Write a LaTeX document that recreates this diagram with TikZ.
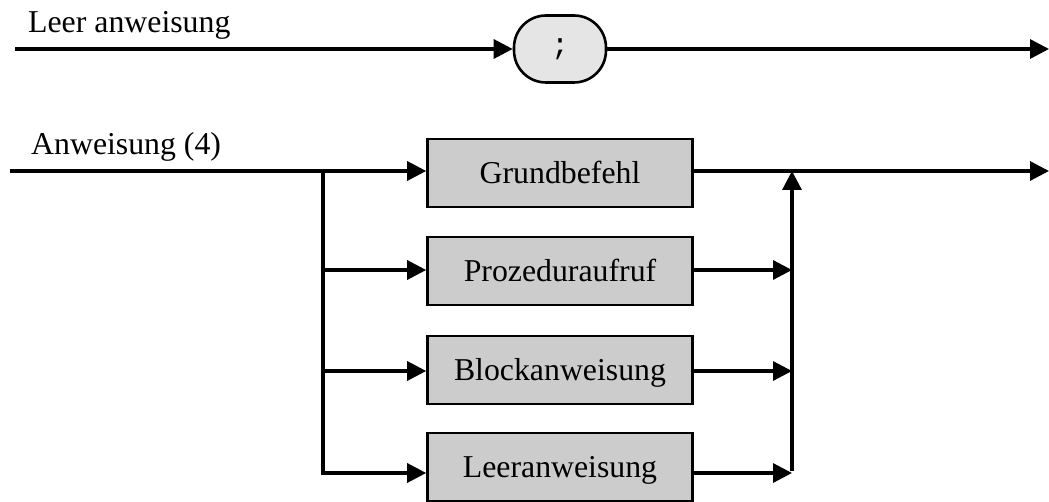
\documentclass[tikz,border=0pt]{standalone}
\usepackage{fontspec}
\setmainfont{Liberation Serif}
\setmonofont{Liberation Mono}
\usetikzlibrary{arrows.meta}

\begin{document}
\begin{tikzpicture}[x=1pt,y=-1pt,
  wire/.style={line width=3.2pt},
  arr/.style={wire, -{Triangle[length=19pt,width=19pt]}},
  prod/.style={draw, line width=2.6pt, fill=black!20, minimum width=265pt,
    minimum height=68pt, inner sep=0pt, font=\fontsize{31.8}{38}\selectfont,
    text height=21pt, text depth=0pt},
  term/.style={draw, line width=2.6pt, fill=black!10, rounded corners=32pt,
    minimum width=92pt, minimum height=67pt, inner sep=0pt,
    font=\ttfamily\fontsize{30}{34}\selectfont},
  title/.style={anchor=base west, inner sep=0pt, font=\fontsize{31.8}{38}\selectfont}]
  \useasboundingbox (0,0) rectangle (1049,502);

  % empty statement
  \node[title] (t1) at (28,33) {Leer anweisung};
  \node[term] (semi) at (560,49) {;};
  \coordinate (a0) at (15,49);
  \coordinate (a1) at (1049,49);
  \draw[arr] (a0) -- (semi);
  \draw[arr] (semi) -- (a1);

  % statement alternatives
  \node[title] (t2) at (31,155) {Anweisung (4)};
  \node[prod] (gb) at (560,173) {Grundbefehl};
  \node[prod] (pa) at (560,271) {Prozeduraufruf};
  \node[prod] (ba) at (560,370) {Blockanweisung};
  \node[prod] (la) at (560,467) {Leeranweisung};

  \coordinate (in)  at (10,171);
  \coordinate (out) at (1049,171);
  \coordinate (fork) at (323,171);
  \coordinate (f2) at (323,270);
  \coordinate (f3) at (323,371);
  \coordinate (f4) at (323,473);
  \coordinate (join) at (792,171);
  \coordinate (j2) at (792,270);
  \coordinate (j3) at (792,371);
  \coordinate (j4) at (792,473);

  \draw[arr] (in) -- (in -| gb.west);
  \draw[arr] (fork) -- (f4) -- (f4 -| la.west);
  \draw[arr] (f2) -- (f2 -| pa.west);
  \draw[arr] (f3) -- (f3 -| ba.west);

  \draw[arr] (gb.east |- out) -- (out);
  \draw[arr] (pa.east |- j2) -- (j2);
  \draw[arr] (ba.east |- j3) -- (j3);
  \draw[arr] (la.east |- j4) -- (j4);
  \draw[arr] ([yshift=1.6pt]j4) -- (join);
\end{tikzpicture}
\end{document}
